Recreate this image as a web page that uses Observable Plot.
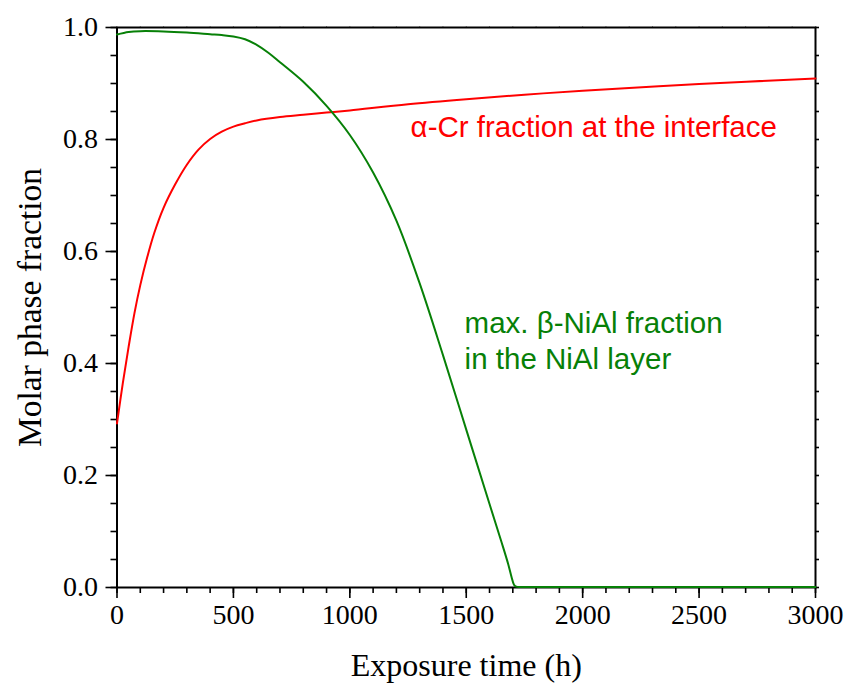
<!DOCTYPE html>
<html>
<head>
<meta charset="utf-8">
<script src="https://cdn.jsdelivr.net/npm/d3@7"></script>
<script src="https://cdn.jsdelivr.net/npm/@observablehq/plot@0.6"></script>
<style>
  html, body { margin: 0; padding: 0; background: #fff; }
</style>
</head>
<body>
<div id="chart"></div>
<script>
// α-Cr fraction at the interface (red)
const crHours = [0, 25, 50, 75, 100, 130, 160, 200, 250, 300, 350, 400, 450, 500, 550, 600, 700, 800, 900, 1000, 1250, 1500, 1750, 2000, 2500, 3000];
const crFrac  = [0.293, 0.365, 0.43, 0.49, 0.54, 0.59, 0.633, 0.678, 0.72, 0.755, 0.782, 0.801, 0.814, 0.823, 0.829, 0.834, 0.840, 0.844, 0.848, 0.852, 0.863, 0.872, 0.880, 0.887, 0.899, 0.909];

// max. β-NiAl fraction in the NiAl layer (green)
const niHours = [0, 50, 100, 200, 300, 400, 450, 500, 550, 600, 650, 700, 800, 900, 1000, 1100, 1200, 1300, 1400, 1500, 1600, 1650, 1680, 1695, 1705, 1715, 1740, 2000, 2500, 3000];
const niFrac  = [0.9875, 0.992, 0.9935, 0.993, 0.991, 0.988, 0.9865, 0.984, 0.979, 0.969, 0.955, 0.938, 0.903, 0.860, 0.808, 0.741, 0.655, 0.543, 0.415, 0.282, 0.149, 0.083, 0.042, 0.018, 0.005, 0.0015, 0.001, 0.001, 0.001, 0.001];

const xMajorTicks = [0, 500, 1000, 1500, 2000, 2500, 3000];
const yMajorTicks = [0, 0.2, 0.4, 0.6, 0.8, 1.0];
const xMinorTicks = d3.range(0, 3001, 100);
const yMinorTicks = d3.range(0, 1.0001, 0.05);

const xLabel = "Exposure time (h)";
const yLabel = "Molar phase fraction";

const annotations = [
  {text: "α-Cr fraction at the interface", x: 1261, y: 0.8036, color: "#ff0000"},
  {text: "max. β-NiAl fraction\nin the NiAl layer", x: 1493, y: 0.391, color: "#078007"}
];

const crData = crHours.map((h, i) => ({h, v: crFrac[i]}));
const niData = niHours.map((h, i) => ({h, v: niFrac[i]}));

const serif = "'Liberation Serif', 'Times New Roman', serif";
const sans = "'Liberation Sans', Arial, sans-serif";

const chart = Plot.plot({
  width: 849,
  height: 692,
  marginLeft: 116.5,
  marginRight: 34,
  marginTop: 27,
  marginBottom: 105,
  style: {fontFamily: serif, background: "#fff", color: "#000"},
  x: {domain: [0, 3000]},
  y: {domain: [0, 1]},
  marks: [
    // minor ticks
    Plot.axisX({ticks: xMinorTicks, tickSize: 6, text: null, strokeWidth: 1.6, label: null}),
    Plot.axisY({ticks: yMinorTicks, tickSize: 6, text: null, strokeWidth: 1.6, label: null}),
    Plot.axisY({anchor: "right", ticks: yMinorTicks, tickSize: 3, text: null, strokeWidth: 1.6, label: null}),
    Plot.axisX({anchor: "top", ticks: xMinorTicks, tickSize: 2, text: null, stroke: "#999", strokeWidth: 1, label: null}),
    // major ticks
    Plot.axisX({ticks: xMajorTicks, tickSize: 11, tickPadding: 6, fontSize: 28, strokeWidth: 1.6, label: null, tickFormat: d3.format("d")}),
    Plot.axisY({ticks: yMajorTicks, tickSize: 11, tickPadding: 8, fontSize: 28, strokeWidth: 1.6, label: null, tickFormat: d3.format(".1f")}),
    Plot.frame({stroke: "#000", strokeWidth: 2}),
    // data lines
    Plot.line(crData, {x: "h", y: "v", stroke: "#ff0000", strokeWidth: 2, curve: "catmull-rom"}),
    Plot.line(niData, {x: "h", y: "v", stroke: "#078007", strokeWidth: 2, curve: "catmull-rom"}),
    // annotations
    Plot.text(annotations, {x: "x", y: "y", text: "text", fill: "color", textAnchor: "start", lineAnchor: "bottom", fontSize: 29.5, lineHeight: 1.19, fontFamily: sans}),
    // axis labels
    Plot.text([xLabel], {frameAnchor: "bottom", text: d => d, dy: 88, fontSize: 32, fontFamily: serif, fill: "#000", lineAnchor: "bottom", textAnchor: "middle"}),
    Plot.text([yLabel], {frameAnchor: "left", text: d => d, dx: -87, rotate: -90, fontSize: 33.5, fontFamily: serif, fill: "#000", textAnchor: "middle", lineAnchor: "middle"})
  ]
});

document.getElementById("chart").appendChild(chart);
</script>
</body>
</html>
